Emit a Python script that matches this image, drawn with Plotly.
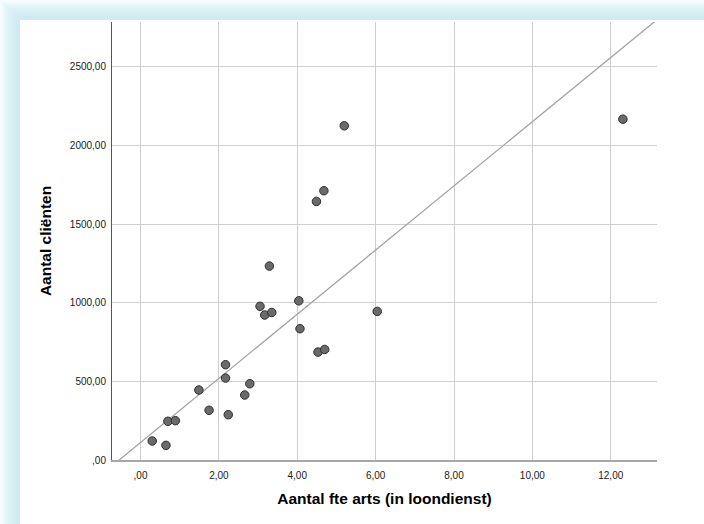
import plotly.graph_objects as go

# ---- data ----
fte_arts = [3.29, 3.05, 3.17, 3.35, 4.04, 6.04, 4.07, 4.53, 4.70, 2.17, 2.17, 2.79,
            1.49, 2.66, 1.75, 2.24, 0.70, 0.89, 0.30, 0.65, 5.20, 4.68, 4.49, 12.31]
clienten = [1233, 977, 922, 938, 1012, 945, 835, 686, 703, 606, 521, 485,
            445, 413, 316, 288, 246, 250, 121, 93, 2125, 1712, 1644, 2167]
fit_intercept = 111.0   # reference line
fit_slope = 204.0
x_ticks = [0, 2, 4, 6, 8, 10, 12]
y_ticks = [0, 500, 1000, 1500, 2000, 2500]
x_title = "Aantal fte arts (in loondienst)"
y_title = "Aantal cliënten"

X_RANGE = [-0.727, 13.18]
Y_RANGE = [0, 2785]

W, H = 704, 524
ML, MR, MT, MB = 112, 47, 22, 64
PW, PH = W - ML - MR, H - MT - MB


def fmt(v):
    s = f"{v:.2f}".replace(".", ",")
    if s.startswith("0,"):
        s = s[1:]
    return s


def px2paper_x(px):
    return (px - ML) / PW


def px2paper_y(py):
    return (H - MB - py) / PH


fig = go.Figure()

# fit / reference line across the whole axis range
line_x = [X_RANGE[0], X_RANGE[1]]
line_y = [fit_intercept + fit_slope * v for v in line_x]
fig.add_trace(go.Scatter(x=line_x, y=line_y, mode="lines",
                         line=dict(color="#a3a3a3", width=1.3),
                         hoverinfo="skip", showlegend=False))

fig.add_trace(go.Scatter(x=fte_arts, y=clienten, mode="markers",
                         marker=dict(size=8.5, color="#6a6a6a",
                                     line=dict(color="#2e2e2e", width=1)),
                         showlegend=False))

# panel with soft cyan drop shadow
shapes = []
panel = (20, 20, W + 40, H + 40)
for k in range(10, 0, -1):
    e = 2 * k
    shapes.append(dict(type="rect", xref="paper", yref="paper", layer="below",
                       x0=px2paper_x(panel[0] - e), x1=px2paper_x(panel[2]),
                       y0=px2paper_y(panel[3]), y1=px2paper_y(panel[1] - e),
                       line=dict(width=0), fillcolor="rgb(190,230,235)", opacity=0.12))
shapes.append(dict(type="rect", xref="paper", yref="paper", layer="below",
                   x0=px2paper_x(panel[0]), x1=px2paper_x(panel[2]),
                   y0=px2paper_y(panel[3]), y1=px2paper_y(panel[1]),
                   line=dict(width=0), fillcolor="white"))

tick_font = dict(family="Liberation Sans, Arial, sans-serif", size=10, color="#1a1a1a")
title_font = dict(family="Liberation Sans, Arial, sans-serif", size=15.5, color="#000000")

fig.update_layout(
    width=W, height=H,
    margin=dict(l=ML, r=MR, t=MT, b=MB, pad=0),
    paper_bgcolor="white", plot_bgcolor="rgba(0,0,0,0)",
    shapes=shapes,
    xaxis=dict(range=X_RANGE, tickvals=x_ticks, ticktext=[fmt(v) for v in x_ticks],
               showgrid=True, gridcolor="#cfcfcf", gridwidth=1, zeroline=False,
               showline=True, linecolor="#a8a8a8", linewidth=2, ticks="",
               tickfont=tick_font, ticklabelstandoff=5,
               title=dict(text="<b>" + x_title + "</b>", font=title_font, standoff=13)),
    yaxis=dict(range=Y_RANGE, tickvals=y_ticks, ticktext=[fmt(v) for v in y_ticks],
               showgrid=True, gridcolor="#cfcfcf", gridwidth=1, zeroline=False,
               showline=True, linecolor="#555555", linewidth=1, ticks="",
               tickfont=tick_font, ticklabelstandoff=3,
               title=dict(text="<b>" + y_title + "</b>", font=title_font, standoff=14)),
)

fig.write_html("out.html", config={"displayModeBar": False},
               post_script="document.body.style.margin='0px';document.body.style.overflow='hidden';")
